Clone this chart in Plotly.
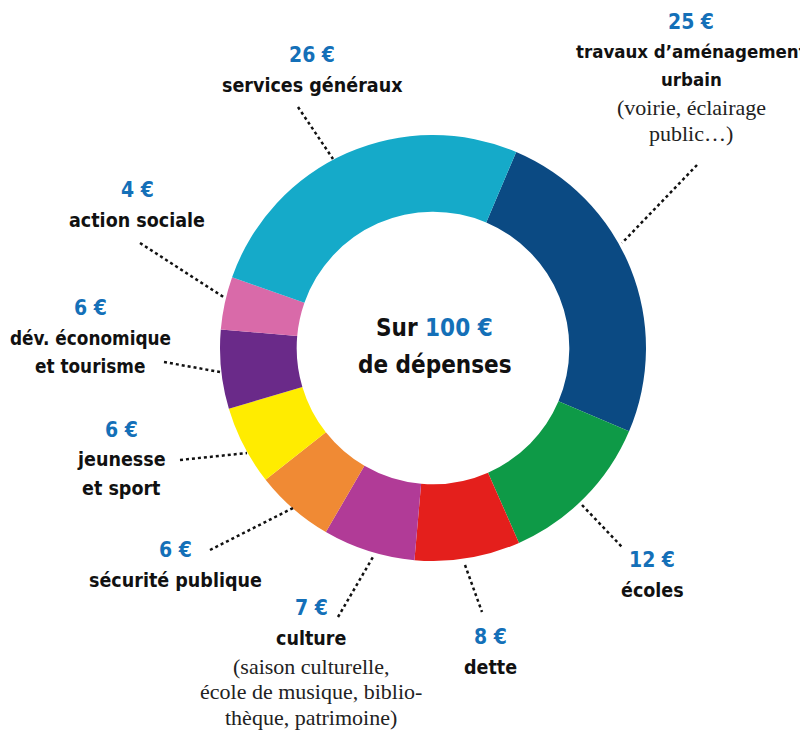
import plotly.graph_objects as go

# ---- data ----
categories = ["travaux d'aménagement urbain", "écoles", "dette", "culture",
              "sécurité publique", "jeunesse et sport", "dév. économique et tourisme",
              "action sociale", "services généraux"]
values = [25, 12, 8, 7, 6, 6, 6, 4, 26]
colors = ["#0b4a83", "#0e9a47", "#e41f1c", "#b13b97", "#f08a34",
          "#ffec00", "#6a2a89", "#d96aa9", "#15aac9"]

# page has an 8px body margin: the figure covers window pixels 8..808 x 8..732
OFF = 8
W, H = 808 - OFF, 732 - OFF
BOLD = "DejaVu Sans Condensed, Liberation Sans Narrow, sans-serif"
SERIF = "Liberation Serif, serif"
BLUE = "#1470b8"


def px(x, y):
    """window pixel -> paper fraction"""
    return (x - OFF) / W, 1 - (y - OFF) / H


CX, CY, R = 433, 348, 213
x0, y1 = px(CX - R, CY - R)
x1, y0 = px(CX + R, CY + R)

fig = go.Figure(go.Pie(
    labels=categories, values=values, sort=False, direction="clockwise",
    rotation=23, hole=0.64, textinfo="none", hoverinfo="label+value",
    marker=dict(colors=colors, line=dict(width=0)),
    domain=dict(x=[x0, x1], y=[y0, y1]),
    showlegend=False,
))

# label texts: (value index, x, y of first line, lines[(text, kind)], bold size)
label_specs = [
    (8, 312, 55, [("services généraux", "b")], 19.5),
    (0, 691, 22, [("travaux d’aménagement", "b"), ("urbain", "b"),
                  ("(voirie, éclairage", "s"), ("public…)", "s")], 18.5),
    (7, 137, 190, [("action sociale", "b")], 19.5),
    (6, 90, 308, [("dév. économique", "b"), ("et tourisme", "b")], 18.8),
    (5, 122, 430, [("jeunesse", "b"), ("et sport", "b")], 19.5),
    (4, 175, 550, [("sécurité publique", "b")], 19.5),
    (3, 311, 608, [("culture", "b"), ("(saison culturelle,", "s"),
                   ("école de musique, biblio-", "s"), ("thèque, patrimoine)", "s")], 19.5),
    (2, 490, 637, [("dette", "b")], 19.5),
    (1, 652, 560, [("écoles", "b")], 19.5),
]

annotations = []
for idx, x, y, lines, bsize in label_specs:
    xx, yy = px(x, y)
    annotations.append(dict(x=xx, y=yy, xref="paper", yref="paper", showarrow=False,
                            text=f"{values[idx]} €", xanchor="center", yanchor="middle",
                            font=dict(family=BOLD, size=21, color=BLUE, weight="bold")))
    cy = y + 30
    for text, kind in lines:
        xx, yy = px(x, cy)
        if kind == "b":
            annotations.append(dict(x=xx, y=yy, xref="paper", yref="paper", showarrow=False,
                                    text=text, xanchor="center", yanchor="middle",
                                    font=dict(family=BOLD, size=bsize, color="#111111",
                                              weight="bold")))
            cy += 28
        else:
            annotations.append(dict(x=xx, y=yy, xref="paper", yref="paper", showarrow=False,
                                    text=text, xanchor="center", yanchor="middle",
                                    font=dict(family=SERIF, size=22, color="#222222")))
            cy += 25.5

cx, cyc = px(435, 328)
annotations.append(dict(x=cx, y=cyc, xref="paper", yref="paper", showarrow=False,
                        text=f"Sur <span style='color:{BLUE}'>{sum(values)} €</span>",
                        font=dict(family=BOLD, size=24, color="#111111", weight="bold")))
cx, cyc = px(435, 365)
annotations.append(dict(x=cx, y=cyc, xref="paper", yref="paper", showarrow=False,
                        text="de dépenses",
                        font=dict(family=BOLD, size=24, color="#111111", weight="bold")))

# dotted leader lines (window pixel coordinates)
leaders = [
    ((298, 107), (333, 159)),
    ((697, 165), (622, 243)),
    ((140, 243), (225, 298)),
    ((164, 362), (220, 372)),
    ((180, 460), (247, 453)),
    ((210, 550), (293, 508)),
    ((338, 617), (373, 557)),
    ((465, 565), (482, 612)),
    ((582, 505), (622, 547)),
]
shapes = []
for (lx0, ly0), (lx1, ly1) in leaders:
    a0, b0 = px(lx0, ly0)
    a1, b1 = px(lx1, ly1)
    shapes.append(dict(type="line", xref="paper", yref="paper", x0=a0, y0=b0, x1=a1, y1=b1,
                       line=dict(color="#111111", width=2.5, dash="dot")))

fig.update_layout(width=W, height=H, margin=dict(l=0, r=0, t=0, b=0),
                  paper_bgcolor="white", plot_bgcolor="white",
                  annotations=annotations, shapes=shapes)

fig.write_html("out.html")
